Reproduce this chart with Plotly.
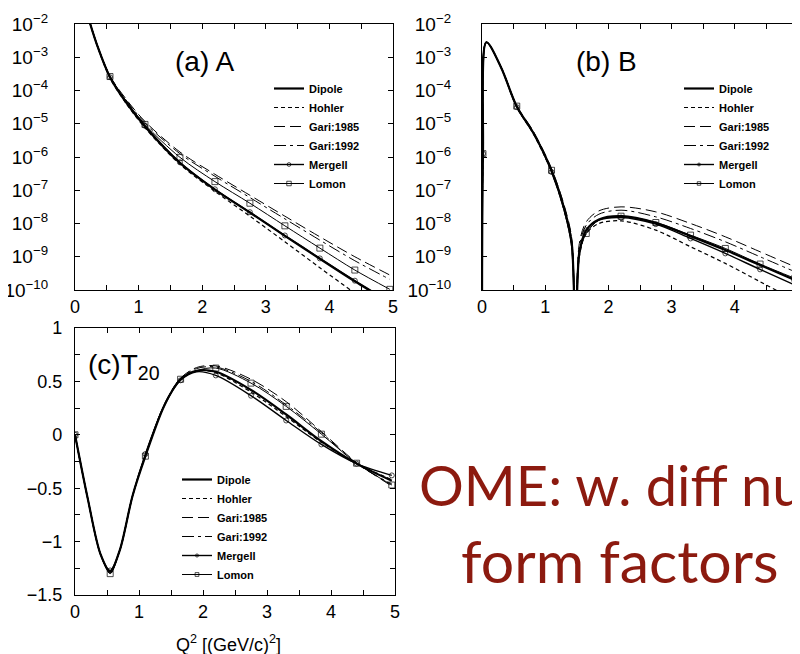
import numpy as np
import plotly.graph_objects as go

# ---------------- data ----------------
models = ["Dipole", "Hohler", "Gari:1985", "Gari:1992", "Mergell", "Lomon"]

# Panel (a): log10 A(Q^2)
QA = [0.2, 0.35, 0.55, 0.8, 1.1, 1.65, 2.2, 2.75, 3.3, 3.85, 4.4, 4.95]
logA_dipole  = [-1.75, -2.65, -3.60, -4.35, -5.08, -6.18, -6.98, -7.67, -8.37, -9.06, -9.74, -10.38]
logA_hohler  = [-1.75, -2.66, -3.62, -4.38, -5.12, -6.22, -7.03, -7.78, -8.55, -9.33, -10.10, -10.90]
logA_gari85  = [-1.75, -2.63, -3.56, -4.25, -4.93, -5.85, -6.52, -7.15, -7.78, -8.40, -9.00, -9.55]
logA_gari92  = [-1.75, -2.64, -3.57, -4.28, -4.97, -5.90, -6.58, -7.22, -7.86, -8.50, -9.12, -9.68]
logA_mergell = [-1.75, -2.65, -3.60, -4.34, -5.06, -6.16, -6.97, -7.66, -8.36, -9.05, -9.72, -10.35]
logA_lomon   = [-1.75, -2.64, -3.58, -4.30, -5.02, -6.01, -6.74, -7.39, -8.07, -8.74, -9.40, -9.98]

# Panel (b): log10 B(Q^2)
QB = [0.0, 0.015, 0.07, 0.3, 0.55, 0.82, 1.1, 1.3, 1.42, 1.48, 1.54, 1.65, 1.85, 2.2, 2.75, 3.3, 3.85, 4.4, 4.95]
logB_dipole  = [-11, -5.9, -2.55, -3.30, -4.48, -5.30, -6.40, -7.55, -8.60, -12, -8.90, -8.20, -7.88, -7.78, -7.98, -8.38, -8.80, -9.25, -9.70]
logB_hohler  = [-11, -5.9, -2.55, -3.30, -4.50, -5.33, -6.45, -7.60, -8.70, -12, -9.00, -8.30, -8.00, -7.92, -8.20, -8.70, -9.20, -9.75, -10.30]
logB_gari85  = [-11, -5.9, -2.55, -3.28, -4.45, -5.25, -6.35, -7.45, -8.45, -12, -8.60, -7.95, -7.62, -7.50, -7.65, -8.00, -8.40, -8.85, -9.30]
logB_gari92  = [-11, -5.9, -2.55, -3.29, -4.46, -5.27, -6.38, -7.50, -8.50, -12, -8.70, -8.05, -7.72, -7.60, -7.80, -8.15, -8.55, -9.00, -9.45]
logB_mergell = [-11, -5.9, -2.55, -3.30, -4.50, -5.30, -6.45, -7.60, -8.70, -12, -8.90, -8.20, -7.90, -7.82, -8.02, -8.45, -8.90, -9.38, -9.85]
logB_lomon   = [-11, -5.9, -2.55, -3.30, -4.47, -5.30, -6.40, -7.55, -8.60, -12, -8.90, -8.30, -7.90, -7.78, -7.97, -8.35, -8.75, -9.22, -9.65]

# Panel (c): T20(Q^2)
QC = [0, 0.2, 0.4, 0.55, 0.7, 0.9, 1.1, 1.4, 1.65, 1.9, 2.2, 2.75, 3.3, 3.85, 4.4, 4.95]
T20_dipole  = [0, -0.60, -1.12, -1.28, -1.08, -0.57, -0.20, 0.28, 0.52, 0.60, 0.59, 0.42, 0.19, -0.06, -0.27, -0.43]
T20_hohler  = [0, -0.60, -1.12, -1.28, -1.08, -0.57, -0.20, 0.28, 0.52, 0.60, 0.58, 0.40, 0.17, -0.07, -0.27, -0.42]
T20_gari85  = [0, -0.60, -1.12, -1.29, -1.08, -0.57, -0.19, 0.29, 0.53, 0.63, 0.645, 0.52, 0.31, 0.03, -0.26, -0.48]
T20_gari92  = [0, -0.60, -1.12, -1.29, -1.08, -0.57, -0.19, 0.29, 0.53, 0.62, 0.635, 0.50, 0.28, 0.02, -0.27, -0.46]
T20_mergell = [0, -0.60, -1.12, -1.27, -1.08, -0.57, -0.18, 0.28, 0.51, 0.59, 0.556, 0.366, 0.134, -0.09, -0.27, -0.38]
T20_lomon   = [0, -0.60, -1.12, -1.30, -1.08, -0.57, -0.20, 0.28, 0.52, 0.60, 0.625, 0.484, 0.266, 0.006, -0.266, -0.47]

# Q^2 values where the model symbols are drawn
MARK_Q = [0, 0.55, 1.1, 1.65, 2.2, 2.75, 3.3, 3.85, 4.4, 4.95]

x_ticks = [0, 1, 2, 3, 4, 5]
log_tick_exps = [-2, -3, -4, -5, -6, -7, -8, -9, -10]
c_ticks = [-1.5, -1, -0.5, 0, 0.5, 1]
c_ticktext = ["\u22121.5", "\u22121", "\u22120.5", "0", "0.5", "1"]

# ---------------- styles ----------------
styles = {
    "Dipole":    dict(width=2.2, dash="solid", marker=None),
    "Hohler":    dict(width=1.2, dash="4px,3px", marker=None),
    "Gari:1985": dict(width=1.0, dash="11px,5px", marker=None),
    "Gari:1992": dict(width=1.0, dash="12px,4px,3px,4px", marker=None),
    "Mergell":   dict(width=1.4, dash="solid", marker="circle-open"),
    "Lomon":     dict(width=1.0, dash="solid", marker="square-open"),
}

W, H = 800, 654
OFF = 8  # page offset of the figure inside the browser window


def X(px):
    return (px - OFF) / W


def Y(py):
    return 1 - (py - OFF) / H


def sizes_for(xs, msize):
    return [msize if any(abs(x - m) < 0.03 for m in MARK_Q) else 0 for x in xs]


fig = go.Figure()

panels = [
    ("x", "y", "legend", QA, [logA_dipole, logA_hohler, logA_gari85, logA_gari92, logA_mergell, logA_lomon], True),
    ("x2", "y2", "legend2", QB, [logB_dipole, logB_hohler, logB_gari85, logB_gari92, logB_mergell, logB_lomon], True),
    ("x3", "y3", "legend3", QC, [T20_dipole, T20_hohler, T20_gari85, T20_gari92, T20_mergell, T20_lomon], False),
]

for xa, ya, lg, xs, series, is_log in panels:
    for name, vals in zip(models, series):
        st = styles[name]
        ys = np.power(10.0, np.array(vals, dtype=float)) if is_log else vals
        kw = dict(
            x=xs, y=ys, xaxis=xa, yaxis=ya, name=name, legend=lg,
            line=dict(color="black", width=st["width"], dash=st["dash"], shape="spline", smoothing=0.9),
        )
        if st["marker"]:
            kw["mode"] = "lines+markers"
            kw["marker"] = dict(symbol=st["marker"], size=sizes_for(xs, 5 if st["marker"] == "circle-open" else 6),
                                color="black", line=dict(color="black", width=1))
        else:
            kw["mode"] = "lines"
        fig.add_trace(go.Scatter(**kw))

tick_font = dict(family="Liberation Sans, Arial", size=18, color="black")
axis_common = dict(
    showline=True, linecolor="black", linewidth=1.2, mirror="ticks",
    ticks="inside", ticklen=5, tickcolor="black", tickwidth=1,
    showgrid=False, zeroline=False, tickfont=tick_font, automargin=False,
)
x_common = dict(axis_common, range=[0, 5], tickvals=x_ticks,
                minor=dict(dtick=0.5, ticks="inside", ticklen=5, tickcolor="black", showgrid=False))

log_vals = [10.0 ** e for e in log_tick_exps]
log_text = ["10<sup>\u2212%d</sup>" % (-e) for e in log_tick_exps]
log_common = dict(axis_common, type="log", range=[-10, -2], tickvals=log_vals, ticktext=log_text,
                  tickfont=dict(family="Liberation Sans, Arial", size=19, color="black"))

legend_common = dict(
    bgcolor="rgba(0,0,0,0)", borderwidth=0, tracegroupgap=0,
    font=dict(family="Liberation Sans, Arial", size=11, color="black", weight="bold"),
    xanchor="left", yanchor="top", itemclick=False, itemdoubleclick=False,
)

fig.update_layout(
    width=W, height=H,
    margin=dict(l=0, r=0, t=0, b=0, autoexpand=False),
    paper_bgcolor="white", plot_bgcolor="white",
    xaxis=dict(x_common, domain=[X(75), X(393)], anchor="y"),
    yaxis=dict(log_common, domain=[Y(290), Y(24)], anchor="x", ticklabelstandoff=22),
    xaxis2=dict(x_common, domain=[X(482), X(798)], anchor="y2"),
    yaxis2=dict(log_common, domain=[Y(290), Y(24)], anchor="x2", ticklabelstandoff=26),
    xaxis3=dict(x_common, domain=[X(75), X(395)], anchor="y3"),
    yaxis3=dict(axis_common, range=[-1.5, 1], tickvals=c_ticks, ticktext=c_ticktext, domain=[Y(595), Y(328)],
                anchor="x3", ticklabelstandoff=8,
                minor=dict(dtick=0.25, ticks="inside", ticklen=5, tickcolor="black", showgrid=False)),
    legend=dict(legend_common, x=X(269), y=Y(74)),
    legend2=dict(legend_common, x=X(679), y=Y(74)),
    legend3=dict(legend_common, x=X(177), y=Y(465)),
    showlegend=True,
)

title_font = dict(family="Liberation Sans, Arial", size=28, color="black")


def ann(text, x, y, font, xanchor="center"):
    fig.add_annotation(text=text, x=x, y=y, xref="paper", yref="paper", xanchor=xanchor, yanchor="middle",
                       showarrow=False, font=font)


ann("(a) A", X(204), Y(62), title_font)
ann("(b) B", X(606), Y(62), title_font)
ann("(c)T<sub>20</sub>", X(86), Y(366), title_font, xanchor="left")
ann("Q<sup>2</sup> [(GeV/c)<sup>2</sup>]", X(228), Y(643), dict(family="Liberation Sans, Arial", size=18, color="black"))
ann("OME: w. diff nucleon", X(417), Y(484), dict(family="Lato, Open Sans", size=56, color="#8c1a0f"), xanchor="left")
ann("form factors", X(620), Y(560), dict(family="Lato, Open Sans", size=59, color="#8c1a0f"))

fig.write_html("out.html")
